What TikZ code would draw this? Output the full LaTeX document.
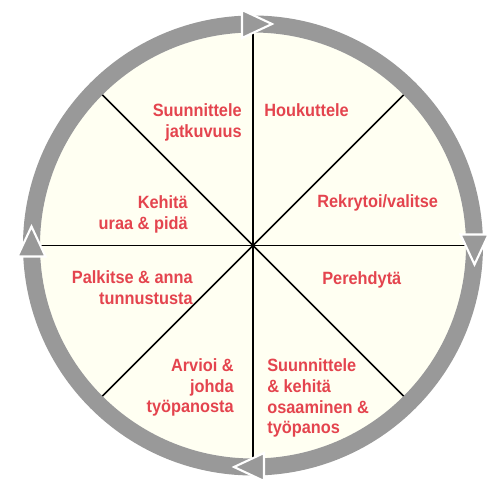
\documentclass[tikz,border=0pt]{standalone}
\usepackage{fontspec}
\setmainfont{Liberation Sans}[FakeStretch=0.92]
\definecolor{ringgray}{RGB}{153,153,153}
\definecolor{cream}{RGB}{255,255,242}
\definecolor{phasered}{RGB}{228,68,78}
\begin{document}
\begin{tikzpicture}[x=0.02cm, y=0.02cm,
  spoke/.style = {line width=1pt, black},
  turn/.style = {fill=ringgray, draw=white, line width=1.2pt, line join=miter},
  phase/.style = {text=phasered, font=\fontsize{10.1}{11.95}\selectfont\bfseries,
    inner sep=0pt}]
  \useasboundingbox (-253,-233.5) rectangle (237,245.5);
  \coordinate (c) at (0,0);
  \fill[cream] (c) circle (213);
  \draw[ringgray, line width=0.34cm] (c) circle (221.5);
  \foreach \a in {0,45,...,315}
    \draw[spoke] (c) -- (\a:213);
  \foreach \a in {90,0,-90,180}
    \filldraw[turn, rotate=\a-90] (-11,207.5) -- (19,221.5) -- (-11,235.5) -- cycle;
  % base = last line
  \node[phase, anchor=base east, align=right] (jatkuvuus) at (-11,107.5)
    {Suunnittele\\jatkuvuus};
  \node[phase, anchor=base west, align=left] (houkuttele) at (11,128.5)
    {Houkuttele};
  \node[phase, anchor=base east, align=right] (kehita) at (-65,15.5)
    {Kehitä\\uraa \& pidä};
  \node[phase, anchor=base west, align=left] (rekrytoi) at (64,37.5)
    {Rekrytoi/valitse};
  \node[phase, anchor=base east, align=right] (palkitse) at (-60,-59.5)
    {Palkitse \& anna\\tunnustusta};
  \node[phase, anchor=base west, align=left] (perehdyta) at (69,-39.5)
    {Perehdytä};
  \node[phase, anchor=base east, align=right] (arvioi) at (-19,-167.5)
    {Arvioi \&\\johda\\työpanosta};
  \node[phase, anchor=base west, align=left] (osaaminen) at (14,-188.5)
    {Suunnittele\\\& kehitä\\osaaminen \&\\työpanos};
\end{tikzpicture}
\end{document}
